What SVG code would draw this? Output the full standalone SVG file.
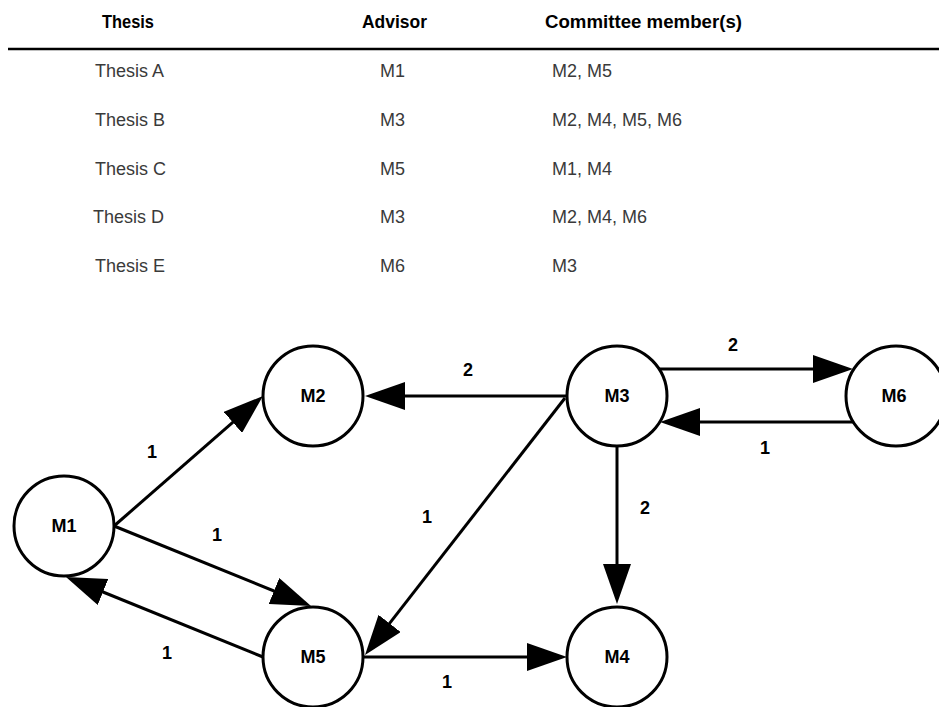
<svg xmlns="http://www.w3.org/2000/svg" width="939" height="707" viewBox="0 0 939 707">
<style>
.th{font-family:"Liberation Sans",Arial,sans-serif;font-size:18px;font-weight:bold;fill:#000}
.td{font-family:"Liberation Sans",Arial,sans-serif;font-size:18px;fill:#3a3a3a}
.node circle{fill:#fff;stroke:#000;stroke-width:3}
.node text{font-family:"Liberation Sans",Arial,sans-serif;font-size:18px;font-weight:bold;text-anchor:middle;fill:#000}
.edge{stroke:#000;stroke-width:3;fill:none;marker-end:url(#ah)}
.lbl{font-family:"Liberation Sans",Arial,sans-serif;font-size:18px;font-weight:bold;text-anchor:middle;fill:#000}
</style>
<defs>
<marker id="ah" markerUnits="userSpaceOnUse" markerWidth="40" markerHeight="28" refX="20" refY="14" orient="auto">
<path d="M0,0 L40,14 L0,28 z" fill="#000"/>
</marker>
</defs>
<rect width="939" height="707" fill="#fff"/>
<g id="table">
<text class="th" x="102" y="28" textLength="52" lengthAdjust="spacingAndGlyphs">Thesis</text>
<text class="th" x="362" y="28" textLength="65" lengthAdjust="spacingAndGlyphs">Advisor</text>
<text class="th" x="545" y="28" textLength="197" lengthAdjust="spacingAndGlyphs">Committee member(s)</text>
<line x1="8" y1="49" x2="939" y2="49" stroke="#000" stroke-width="2.5"/>
<text class="td" x="95" y="77">Thesis A</text>
<text class="td" x="380" y="77">M1</text>
<text class="td" x="552" y="77">M2, M5</text>
<text class="td" x="95" y="126">Thesis B</text>
<text class="td" x="380" y="126">M3</text>
<text class="td" x="552" y="126">M2, M4, M5, M6</text>
<text class="td" x="95" y="175">Thesis C</text>
<text class="td" x="380" y="175">M5</text>
<text class="td" x="552" y="175">M1, M4</text>
<text class="td" x="93" y="223">Thesis D</text>
<text class="td" x="380" y="223">M3</text>
<text class="td" x="552" y="223">M2, M4, M6</text>
<text class="td" x="95" y="272">Thesis E</text>
<text class="td" x="380" y="272">M6</text>
<text class="td" x="552" y="272">M3</text>
</g>
<g id="connectors">
<line class="edge" x1="114" y1="526" x2="247.9" y2="409.2"/>
<line class="edge" x1="114" y1="526" x2="292.5" y2="598.5"/>
<line class="edge" x1="263" y1="657" x2="84.5" y2="584.5"/>
<line class="edge" x1="567" y1="396" x2="385" y2="396"/>
<line class="edge" x1="565" y1="398" x2="377.3" y2="639.2"/>
<line class="edge" x1="659" y1="369" x2="833" y2="369"/>
<line class="edge" x1="853" y1="422" x2="680" y2="422"/>
<line class="edge" x1="617" y1="446" x2="617" y2="584"/>
<line class="edge" x1="363" y1="657" x2="547" y2="657"/>
<text class="lbl" x="152" y="458">1</text>
<text class="lbl" x="217" y="541">1</text>
<text class="lbl" x="167" y="659">1</text>
<text class="lbl" x="468" y="376">2</text>
<text class="lbl" x="427" y="523">1</text>
<text class="lbl" x="733" y="351">2</text>
<text class="lbl" x="765" y="454">1</text>
<text class="lbl" x="645" y="514">2</text>
<text class="lbl" x="447" y="688">1</text>
</g>
<g id="M1" class="node"><circle cx="64" cy="526" r="50"/><text x="64" y="532">M1</text></g>
<g id="M2" class="node"><circle cx="313" cy="396" r="50"/><text x="313" y="402">M2</text></g>
<g id="M3" class="node"><circle cx="617" cy="396" r="50"/><text x="617" y="402">M3</text></g>
<g id="M4" class="node"><circle cx="617" cy="657" r="50"/><text x="617" y="663">M4</text></g>
<g id="M5" class="node"><circle cx="313" cy="657" r="50"/><text x="313" y="663">M5</text></g>
<g id="M6" class="node"><circle cx="896" cy="396" r="50"/><text x="894" y="402">M6</text></g>
</svg>
